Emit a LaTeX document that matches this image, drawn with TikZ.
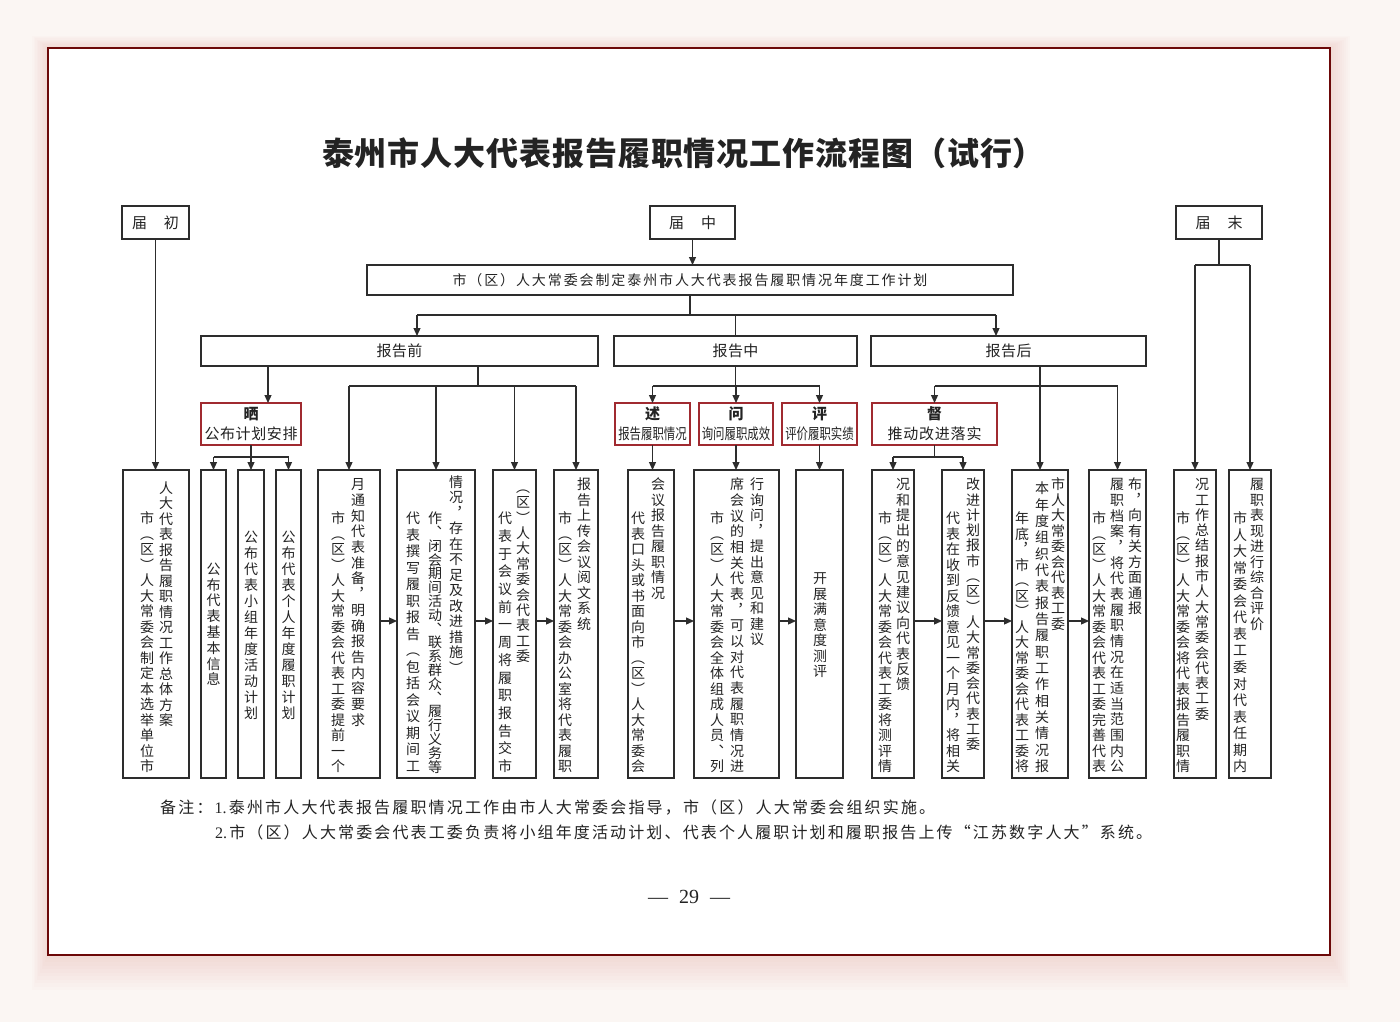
\documentclass[tikz,border=0pt]{standalone}
\usepackage{fontspec}
\usepackage{graphicx}
\setmainfont{Noto Sans CJK SC}
\newfontfamily\lib{Liberation Serif}
\usetikzlibrary{arrows.meta}
\definecolor{lncol}{RGB}{45,45,45}
\definecolor{txt}{RGB}{35,35,35}
\definecolor{redbox}{RGB}{160,42,48}
\definecolor{framecol}{RGB}{108,8,8}
\definecolor{bgcol}{RGB}{251,246,243}
\definecolor{glow}{RGB}{230,170,160}
\newcommand\fs[1]{\fontsize{#1pt}{#1pt}\selectfont}
\newlength\vp
\makeatletter
\def\spend{\spend@x}
\def\spread#1#2{\hbox to #1pt{\sp@first#2\spend}}
\def\sp@first#1{{#1}\sp@loop}
\def\sp@loop{\futurelet\sp@next\sp@check}
\def\sp@check{\ifx\sp@next\spend\expandafter\@gobble\else\expandafter\sp@do\fi}
\def\sp@do#1{\hfil{#1}\sp@loop}
\def\vcol#1#2{\vbox{\offinterlineskip\vp=#1pt\relax\v@loop#2\spend}}
\def\v@loop{\futurelet\sp@next\v@check}
\def\v@check{\ifx\sp@next\spend\expandafter\@gobble\else\expandafter\v@do\fi}
\def\v@do#1{\vbox to\vp{\vss\hbox to 14pt{\hss\raisebox{0pt}[0.86em][0.14em]{#1}\hss}\vss}\v@loop}
\makeatother
\newcommand\BX[7][bx]{\node[#1,minimum width={(#5)-(#3)},minimum height={(#6)-(#4)}] (#2) at ({((#3)+(#5))/2},{((#4)+(#6))/2}) {#7};}
\newcommand\VC[5]{\node[vt] (#1) at (#2,{(#3)-(#4)/2}) {\vcol{#4}{#5}};}
\begin{document}
\begin{tikzpicture}[x=1pt,y=-1pt,
  bx/.style={draw=lncol,line width=1.2pt,fill=white,inner sep=0pt,outer sep=0pt,text=txt},
  rbx/.style={draw=redbox,line width=2.2pt,fill=white,inner sep=0pt,outer sep=0pt},
  lnk/.style={draw=lncol,line width=1.2pt},
  arr/.style={lnk,-{Triangle[length=8pt,width=7pt]}},
  lab/.style={inner sep=0pt,text=txt},
  vt/.style={inner sep=0pt,anchor=north,font=\fs{14},text=txt}]
\useasboundingbox (0,0) rectangle (1400,1022);
\fill[bgcol] (0,0) rectangle (1400,1022);
\foreach \i in {1,...,10}{\fill[glow,opacity=0.035] ({48-\i*1.6},{48-\i*1.2}) rectangle ({1330+\i*2},{955+\i*3.5});}
\fill[white] (48,48) rectangle (1330,955);
\draw[framecol,line width=2.4pt] (48,48) rectangle (1330,955);
% title
\node[lab,font=\fs{32}\bfseries] (title) at (683.5,153) {\spread{723}{泰州市人大代表报告履职情况工作流程图（试行）}};
% top boxes
\BX{chu}{122}{206}{189}{239}{\fs{15}\spread{47}{届初}}
\BX{zhong}{650}{206}{735}{239}{\fs{15}\spread{47}{届中}}
\BX{mo}{1176}{206}{1262}{239}{\fs{15}\spread{47}{届末}}
\BX{plan}{367}{265}{1013}{295}{\fs{14}\spread{475}{市（区）人大常委会制定泰州市人大代表报告履职情况年度工作计划}}
\BX{qian}{201}{336}{598}{366}{\fs{15}\spread{46}{报告前}}
\BX{zhongb}{614}{336}{857}{366}{\fs{15}\spread{46}{报告中}}
\BX{hou}{871}{336}{1146}{366}{\fs{15}\spread{46}{报告后}}
% red boxes
\BX[rbx]{shai}{201}{403}{301}{445}{}
\BX[rbx]{shu}{615}{403}{690}{445}{}
\BX[rbx]{wen}{699}{403}{773}{445}{}
\BX[rbx]{ping}{782}{403}{857}{445}{}
\BX[rbx]{du}{872}{403}{997}{445}{}
\node[lab,font=\fs{15}\bfseries] (shai1) at (251,414) {晒};
\node[lab,font=\fs{15}] (shai2) at (251,434) {\spread{93}{公布计划安排}};
\node[lab,font=\fs{15}\bfseries] (shu1) at (652.5,414) {述};
\node[lab,font=\fs{15}] (shu2) at (652.5,434) {\scalebox{0.76}[1]{报告履职情况}};
\node[lab,font=\fs{15}\bfseries] (wen1) at (736,414) {问};
\node[lab,font=\fs{15}] (wen2) at (736,434) {\scalebox{0.76}[1]{询问履职成效}};
\node[lab,font=\fs{15}\bfseries] (ping1) at (819.5,414) {评};
\node[lab,font=\fs{15}] (ping2) at (819.5,434) {\scalebox{0.76}[1]{评价履职实绩}};
\node[lab,font=\fs{15}\bfseries] (du1) at (934.5,414) {督};
\node[lab,font=\fs{15}] (du2) at (934.5,434) {\spread{94}{推动改进落实}};
% bottom boxes
\BX{B1}{123}{470}{189}{778}{}
\BX{B2}{201}{470}{226}{778}{}
\BX{B3}{238}{470}{264}{778}{}
\BX{B4}{276}{470}{301}{778}{}
\BX{B5}{318}{470}{380}{778}{}
\BX{B6}{397}{470}{475}{778}{}
\BX{B7}{493}{470}{536}{778}{}
\BX{B8}{554}{470}{598}{778}{}
\BX{B9}{628}{470}{674}{778}{}
\BX{B10}{694}{470}{779}{778}{}
\BX{B11}{796}{470}{843}{778}{}
\BX{B12}{872}{470}{914}{778}{}
\BX{B13}{942}{470}{984}{778}{}
\BX{B14}{1012}{470}{1068}{778}{}
\BX{B15}{1089}{470}{1146}{778}{}
\BX{B16}{1174}{470}{1216}{778}{}
\BX{B17}{1229}{470}{1271}{778}{}
% vertical texts
\VC{c1a}{147}{518.5}{15.5}{市︵区︶人大常委会制定本选举单位市}
\VC{c1b}{166}{488}{15.5}{人大代表报告履职情况工作总体方案}
\VC{c2}{213.5}{569}{15.8}{公布代表基本信息}
\VC{c3}{251}{537}{16}{公布代表小组年度活动计划}
\VC{c4}{288.5}{537}{16}{公布代表个人年度履职计划}
\VC{c5a}{338}{518.5}{15.5}{市︵区︶人大常委会代表工委提前一个}
\VC{c5b}{358}{484.5}{15.7}{月通知代表准备︐明确报告内容要求}
\VC{c6a}{413}{518.5}{16.5}{代表撰写履职报告︵包括会议期间工}
\VC{c6b}{435}{518.5}{13.8}{作︑闭会期间活动︑联系群众︑履行义务等}
\VC{c6c}{456}{482}{15.5}{情况︐存在不足及改进措施︶}
\VC{c7a}{505}{518.5}{17.7}{代表于会议前一周将履职报告交市}
\VC{c7b}{523}{487}{15.4}{︵区︶人大常委会代表工委}
\VC{c8a}{565}{518.5}{15.5}{市︵区︶人大常委会办公室将代表履职}
\VC{c8b}{584}{484.5}{15.5}{报告上传会议阅文系统}
\VC{c9a}{638}{518.5}{15.5}{代表口头或书面向市︵区︶人大常委会}
\VC{c9b}{658}{484.5}{15.5}{会议报告履职情况}
\VC{c10a}{717}{518.5}{15.5}{市︵区︶人大常委会全体组成人员︑列}
\VC{c10b}{737}{484.5}{15.67}{席会议的相关代表︐可以对代表履职情况进}
\VC{c10c}{757}{484.5}{15.5}{行询问︐提出意见和建议}
\VC{c11}{820}{578.5}{15.5}{开展满意度测评}
\VC{c12a}{885}{518.5}{15.5}{市︵区︶人大常委会代表工委将测评情}
\VC{c12b}{903}{484.5}{15.4}{况和提出的意见建议向代表反馈}
\VC{c13a}{953}{518.5}{15.5}{代表在收到反馈意见一个月内︐将相关}
\VC{c13b}{973}{484.5}{15.3}{改进计划报市︵区︶人大常委会代表工委}
\VC{c14a}{1022}{518.5}{15.5}{年底︐市︵区︶人大常委会代表工委将}
\VC{c14b}{1042}{488.5}{16.35}{本年度组织代表报告履职工作相关情况报}
\VC{c14c}{1058}{484.5}{15.5}{市人大常委会代表工委}
\VC{c15a}{1099}{518.5}{15.5}{市︵区︶人大常委会代表工委完善代表}
\VC{c15b}{1117}{484.5}{15.67}{履职档案︐将代表履职情况在适当范围内公}
\VC{c15c}{1135}{484.5}{15.5}{布︐向有关方面通报}
\VC{c16a}{1183}{518.5}{15.5}{市︵区︶人大常委会将代表报告履职情}
\VC{c16b}{1202}{484.5}{15.3}{况工作总结报市人大常委会代表工委}
\VC{c17a}{1240}{518.5}{16.53}{市人大常委会代表工委对代表任期内}
\VC{c17b}{1257}{484.5}{15.5}{履职表现进行综合评价}
% connectors
\draw[arr] (chu.south) -- (chu.south |- B1.north);
\draw[arr] (zhong.south) -- (zhong.south |- plan.north);
\coordinate (pj) at (690,315);
\coordinate (qa) at (417,315);
\coordinate (ha) at (996,315);
\draw[lnk] (plan.south) -- (pj);
\draw[lnk] (qa) -- (ha);
\draw[arr] (qa) -- (qa |- qian.north);
\draw[arr] (ha) -- (ha |- hou.north);
\draw[lnk] (zhongb.north |- pj) -- (zhongb.north);
% report-before
\coordinate (qs) at (268,0);
\draw[arr] (qian.south -| qs) -- (qs |- shai.north);
\coordinate (qb) at (478,386);
\draw[lnk] (qian.south -| qb) -- (qb);
\draw[lnk] (B5.north |- qb) -- (B8.north |- qb);
\foreach \b in {B5,B6,B7,B8}{\draw[arr] (\b.north |- qb) -- (\b.north);}
\coordinate (sj) at (251,457);
\draw[lnk] (shai.south) -- (sj);
\draw[lnk] (B2.north |- sj) -- (B4.north |- sj);
\foreach \b in {B2,B3,B4}{\draw[arr] (\b.north |- sj) -- (\b.north);}
% report-during
\coordinate (zj) at (735.5,386);
\draw[lnk] (zhongb.south) -- (zj);
\draw[lnk] (shu.north |- zj) -- (ping.north |- zj);
\foreach \b in {shu,wen,ping}{\draw[arr] (\b.north |- zj) -- (\b.north);}
\draw[arr] (shu.south) -- (shu.south |- B9.north);
\draw[arr] (wen.south) -- (wen.south |- B10.north);
\draw[arr] (ping.south) -- (ping.south |- B11.north);
% report-after
\coordinate (hj) at (1040,386);
\draw[arr] (hou.south -| hj) -- (hj |- B14.north);
\draw[lnk] (du.north |- hj) -- (B15.north |- hj);
\draw[arr] (du.north |- hj) -- (du.north);
\draw[arr] (B15.north |- hj) -- (B15.north);
\coordinate (dj) at (934.5,457);
\draw[lnk] (du.south) -- (dj);
\draw[lnk] (B12.north |- dj) -- (B13.north |- dj);
\foreach \b in {B12,B13}{\draw[arr] (\b.north |- dj) -- (\b.north);}
% end of term
\coordinate (mj) at (1219,265);
\draw[lnk] (mo.south) -- (mj);
\draw[lnk] (B16.north |- mj) -- (B17.north |- mj);
\foreach \b in {B16,B17}{\draw[arr] (\b.north |- mj) -- (\b.north);}
% horizontal flow arrows
\foreach \a/\b in {B5/B6,B6/B7,B7/B8,B9/B10,B10/B11,B12/B13,B13/B14,B14/B15}{\draw[arr] ([yshift=3pt]\a.east) -- ([yshift=3pt]\b.west);}
% notes
\node[lab,anchor=west,font=\fs{16}] (note1) at (160,807) {\spread{775}{备注：{\lib 1.}泰州市人大代表报告履职情况工作由市人大常委会指导，市（区）人大常委会组织实施。}};
\node[lab,anchor=west,font=\fs{16}] (note2) at (215,832) {\spread{937}{{\lib 2.}市（区）人大常委会代表工委负责将小组年度活动计划、代表个人履职计划和履职报告上传“江苏数字人大”系统。}};
\node[lab,font=\fs{20}\lib] (page) at (689,897) {\spread{82}{—{29}—}};
\end{tikzpicture}
\end{document}
